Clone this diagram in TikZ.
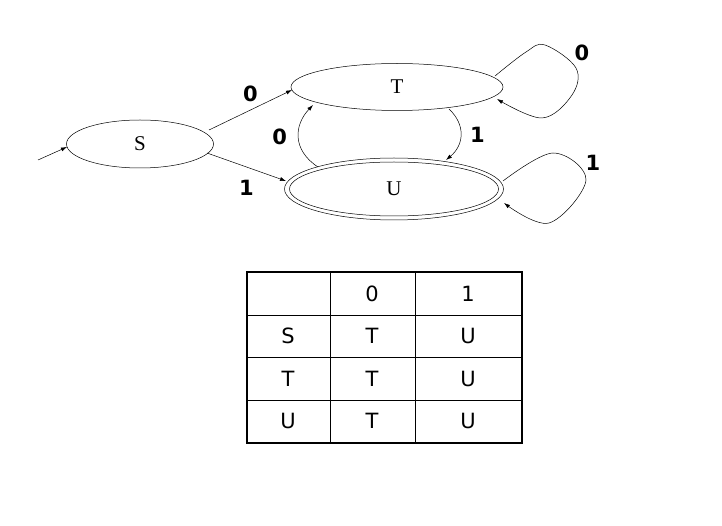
\documentclass[tikz,border=0pt]{standalone}
\usepackage{fontspec}
\setmainfont{Liberation Serif}
\newfontfamily\lab{DejaVu Sans}
\usetikzlibrary{shapes.geometric,arrows.meta}
\begin{document}
\begin{tikzpicture}[x=1pt,y=-1pt,
  st/.style={ellipse,draw,line width=0.5pt,inner sep=0pt,font=\fontsize{21}{21}\selectfont},
  ed/.style={-{Latex[length=6pt,width=4pt]},line width=0.5pt},
  lb/.style={font=\lab\bfseries\fontsize{21}{21}\selectfont},
  cell/.style={font=\lab\fontsize{21}{21}\selectfont}]
\useasboundingbox (0,0) rectangle (722,526);
\node[st,minimum width=147pt,minimum height=48pt] (S) at (140,144) {S};
\node[st,minimum width=212pt,minimum height=47pt] (T) at (397,87) {T};
\node[st,minimum width=219pt,minimum height=62pt] (U) at (394,189) {};
\node[st,minimum width=209pt,minimum height=54pt] (Ui) at (394,189) {U};
\coordinate (init) at (38,160);
\coordinate (s1) at (209,130); \coordinate (t1) at (292,90);
\coordinate (s2) at (207,153); \coordinate (u1) at (286,181);
\coordinate (u2) at (318,167); \coordinate (t2) at (313,105);
\coordinate (t3) at (449,109); \coordinate (u3) at (446,160);
\coordinate (t4) at (495,76); \coordinate (t5) at (497,99);
\coordinate (u4) at (503,181); \coordinate (u5) at (504,203);
\draw[ed] (init) -- (67,147);
\draw[ed] (s1) -- (t1) node[lb,pos=0.5,above=5pt] {0};
\draw[ed] (s2) -- (u1) node[lb,pos=0.5,below=10pt] {1};
\draw[ed] (u2) .. controls (292,150) and (294,125) .. (t2) node[lb,pos=0.5,left=8pt] {0};
\draw[ed] (t3) .. controls (466,125) and (464,145) .. (u3) node[lb,pos=0.5,right=6pt] {1};
\draw[ed] plot[smooth,tension=0.6] coordinates {(t4) (526,52) (545,45) (576,68) (572,95) (542,118) (t5)};
\node[lb] (l0) at (582,53) {0};
\draw[ed] plot[smooth,tension=0.6] coordinates {(u4) (553,153) (586,180) (549,223) (u5)};
\node[lb] (l1) at (593,163) {1};
% table
\draw[line width=0.5pt] (330,272) -- (330,443) (415,272) -- (415,443)
  (247,315) -- (522,315) (247,357) -- (522,357) (247,400) -- (522,400);
\draw[line width=1.8pt] (247,272) rectangle (522,443);
\node[cell] at (372,294) {0}; \node[cell] at (468,294) {1};
\node[cell] at (288,336) {S}; \node[cell] at (372,336) {T}; \node[cell] at (468,336) {U};
\node[cell] at (288,379) {T}; \node[cell] at (372,379) {T}; \node[cell] at (468,379) {U};
\node[cell] at (288,421) {U}; \node[cell] at (372,421) {T}; \node[cell] at (468,421) {U};
\end{tikzpicture}
\end{document}
